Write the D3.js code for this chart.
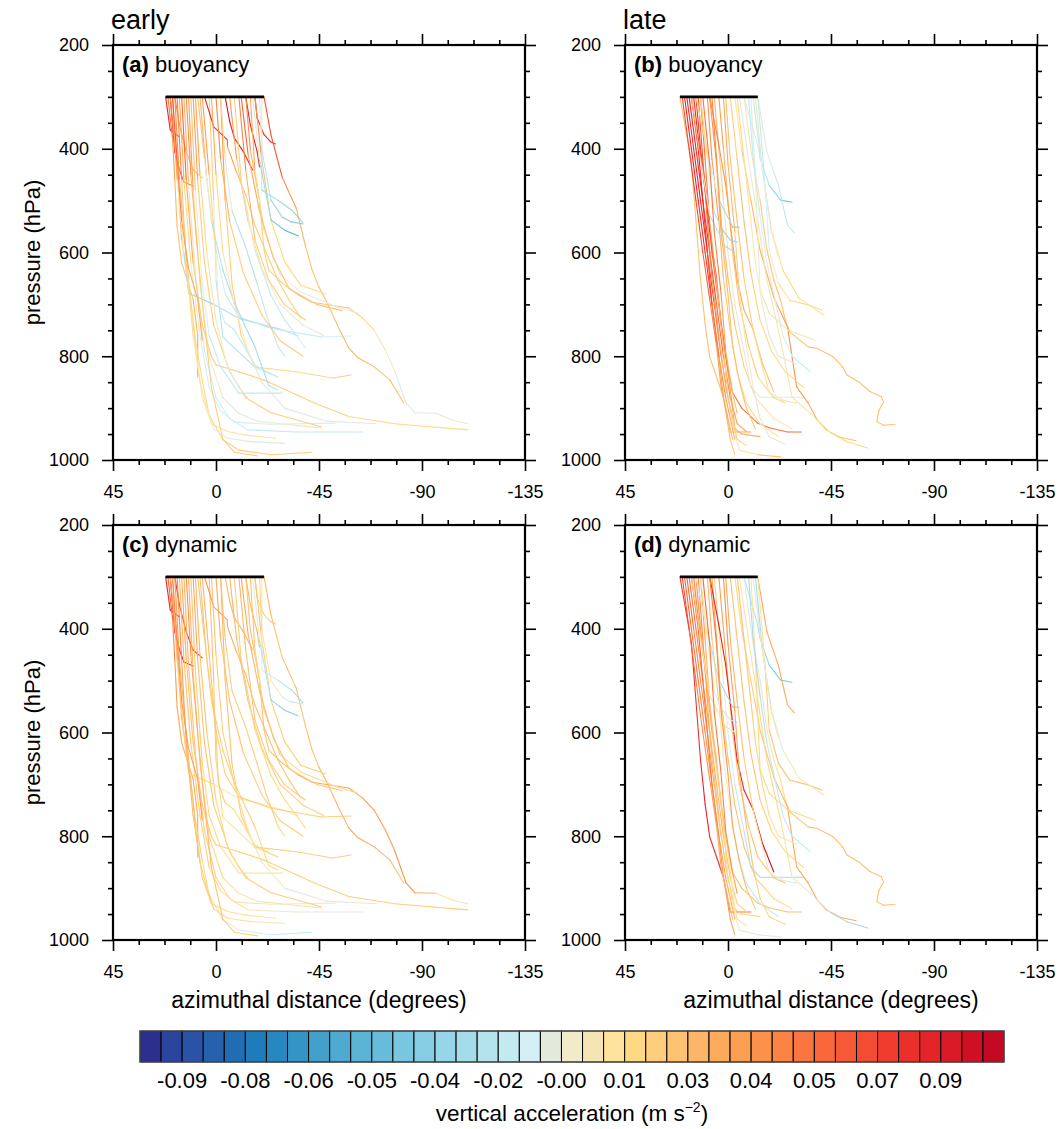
<!DOCTYPE html>
<html>
<head>
<meta charset="utf-8">
<script src="https://cdn.jsdelivr.net/npm/d3@7"></script>
<style>
  body { margin: 0; background: #fff; }
  text { font-family: "Liberation Sans", Arial, Helvetica, sans-serif; fill: #000; }
</style>
</head>
<body>
<svg></svg>
<script>
// ---- axis ticks ----
const xTicks = [45, 0, -45, -90, -135];
const yTicks = [200, 400, 600, 800, 1000];

// ---- colour levels (m s-2) ----
const levels = [-0.1, -0.095, -0.09, -0.085, -0.08, -0.075, -0.07, -0.065, -0.06, -0.055,
  -0.05, -0.045, -0.04, -0.035, -0.03, -0.025, -0.02, -0.015, -0.01, -0.005,
  0, 0.005, 0.01, 0.015, 0.02, 0.025, 0.03, 0.035, 0.04, 0.045,
  0.05, 0.055, 0.06, 0.065, 0.07, 0.075, 0.08, 0.085, 0.09, 0.095];
const levelColors = ["#2d2f8e", "#2b449e", "#2a52a6", "#2661ad", "#206db3", "#1d7cb9", "#2787c0",
  "#3594c6", "#42a0cb", "#4eaad1", "#5bb3d6", "#67bcda", "#78c6df", "#86cde3", "#97d5e8",
  "#a4dcea", "#b4e3ee", "#c3e9f1", "#d4eff4", "#e2eadc", "#f1ebc9", "#f5e5b4", "#fde39d",
  "#fed985", "#fece7c", "#fdc272", "#fdb668", "#fcaa5c", "#fc9f53", "#fb914b", "#fb8445",
  "#fa7640", "#f9673b", "#f75937", "#f44b33", "#f03c2e", "#eb2f2a", "#e42428", "#da1a26",
  "#cf1024", "#c30a22"];
const cbarTicks = [-0.095, -0.08, -0.065, -0.05, -0.035, -0.02, -0.005, 0.01, 0.025, 0.04, 0.055, 0.07, 0.085];
const cbarLabels = ["-0.09", "-0.08", "-0.06", "-0.05", "-0.04", "-0.02", "-0.00", "0.01", "0.03", "0.04", "0.05", "0.07", "0.09"];

// ---- early trajectories: [azimuthal distance (deg), pressure (hPa)] ----
const earlyTracks = [
  [[22,300],[20,364],[16,377]],
  [[20,300],[18,406],[16,440],[14,464],[10,472]],
  [[18,300],[16,354],[13,406],[10,441],[6,456]],
  [[21,300],[19,380],[18,460],[17,550],[15,620],[10,690],[8,760],[8,840]],
  [[20,300],[17,441],[15,576],[11,692],[9,769],[6,846],[3,913],[-3,961],[-10,981],[-24,990],[-42,985]],
  [[18,300],[16,460],[12,650],[9,780],[6,880],[2,930],[-5,945],[-13,952],[-26,958]],
  [[16,300],[14,460],[11,620],[7,760],[3,860],[-2,905],[-8,927],[-24,931],[-52,929]],
  [[14,300],[12,470],[9,640],[5,790],[0,880],[-6,920],[-14,942],[-35,946],[-64,946]],
  [[12,300],[10,480],[7,660],[3,800],[-3,880],[-10,910],[-18,925],[-32,932],[-46,938]],
  [[10,300],[8,460],[5,620],[1,740],[-6,830],[-13,880],[-24,909],[-46,936]],
  [[15,300],[13,460],[10,620],[6,740],[2,800],[0,817],[-10,830],[-21,846],[-43,890],[-58,916],[-78,930],[-110,942]],
  [[11,300],[9,480],[6,660],[3,760],[-2,820],[-10,871],[-29,871]],
  [[19,300],[17,460],[14,600],[12,678],[1,700],[-10,727],[-29,749],[-36,761]],
  [[7,300],[4,460],[0,595],[-4,680],[-10,724],[-24,746],[-46,763],[-59,761]],
  [[3,300],[1,499],[0,653],[-3,763],[-17,821],[-27,840]],
  [[-2,300],[-4,499],[-7,660],[-11,760],[-17,821],[-35,830],[-51,842],[-59,836]],
  [[5,300],[1,358],[-5,383],[-5,396],[-9,445],[-13,489],[-17,547],[-23,611],[-27,653],[-32,692],[-37,726]],
  [[-4,300],[-6,348],[-8,379],[-12,406],[-16,441]],
  [[-17,300],[-18,341],[-21,373],[-24,387],[-26,391]],
  [[-13,300],[-15,354],[-18,406],[-19,435]],
  [[-21,300],[-24,373],[-29,456],[-35,514],[-39,586],[-42,634],[-45,667],[-48,692],[-54,749],[-58,784],[-62,803],[-69,820],[-76,846],[-82,890]],
  [[-13,300],[-15,402],[-19,499],[-21,595],[-23,634],[-29,659],[-36,682],[-42,696],[-58,707],[-64,726],[-69,749],[-74,788],[-78,827],[-83,890],[-87,909],[-96,910],[-104,924],[-110,930]],
  [[-17,300],[-20,422],[-24,537],[-30,618],[-37,663],[-48,680]],
  [[-15,300],[-17,441],[-21,557],[-28,643],[-37,676],[-53,705],[-62,717]],
  [[-10,300],[-13,441],[-17,576],[-23,653],[-30,701],[-39,730]],
  [[-8,300],[-11,460],[-17,595],[-24,682],[-30,730],[-35,759],[-39,784]],
  [[-20,300],[-20,383],[-20,480],[-27,499],[-33,518],[-38,543]],
  [[-19,300],[-20,402],[-24,499],[-29,532],[-33,541],[-38,545]],
  [[-16,300],[-19,422],[-24,537],[-30,557],[-36,568]],
  [[-2,300],[-4,420],[-7,520],[-13,590],[-18,660],[-22,720],[-27,780],[-30,800]],
  [[8,300],[5,420],[2,540],[-3,634],[-8,697],[-17,782],[-23,856],[-27,865]],
  [[6,300],[3,450],[0,600],[-1,697],[-4,736],[-8,749],[-17,817],[-21,827],[-27,840]],
  [[0,300],[-2,420],[-6,540],[-12,640],[-20,720],[-28,770],[-38,800]],
  [[-6,300],[-9,420],[-14,540],[-20,630],[-28,700],[-38,740],[-47,760]],
  [[-11,300],[-14,410],[-19,520],[-25,610],[-32,670],[-44,700],[-55,712]],
  [[2,300],[0,450],[-3,600],[-8,700],[-14,790],[-20,850],[-30,900],[-48,925],[-70,930]],
  [[17,300],[15,460],[13,620],[10,760],[7,850],[4,900],[1,940],[-5,958],[-16,965],[-30,968]],
  [[13,300],[11,450],[8,600],[5,740],[2,860],[-1,920],[-3,960],[-8,985],[-18,992]],
  [[9,300],[7,450],[4,600],[0,730],[-5,820],[-10,860],[-14,880]],
  [[19,300],[17,420],[15,540],[12,630],[8,690],[6,769]]
];

// buoyancy acceleration along the early trajectories (m s-2)
const earlyBuoyancy = [
  [0.08,0.08,0.07],
  [0.08,0.07,0.06,0.05,0.04],
  [0.05,0.04,0.03,0.02,0.02],
  [0.06,0.04,0.03,0.02,0.02,0.02,0.03,0.03],
  [0.06,0.03,0.02,0.015,0.01,0.01,0.01,0.015,0.015,0.015,0.015],
  [0.05,0.03,0.015,0.01,0.005,0.005,0.005,0.005,0.005],
  [0.04,0.02,0,-0.01,-0.015,-0.015,-0.015,-0.015,-0.015],
  [0.04,0.01,-0.005,-0.01,-0.015,-0.015,-0.015,-0.02,-0.015],
  [0.05,0.02,0.005,0,-0.01,-0.01,-0.01,0,0],
  [0.05,0.02,0.015,0.015,0.015,0.015,0.015,0.015],
  [0.07,0.04,0.02,0.015,0.015,0.015,0.015,0.015,0.015,0.015,0.01,0.01],
  [0.04,0,-0.01,-0.02,-0.02,-0.02,-0.02],
  [0.05,0.01,-0.02,-0.03,-0.03,-0.03,-0.025,-0.02],
  [0.04,0.01,-0.01,-0.02,-0.02,-0.02,-0.015,-0.015],
  [0.03,0,-0.02,-0.03,-0.02,-0.02],
  [0.05,0.02,0.015,0.015,0.01,0.01,0.015,0.015],
  [0.08,0.08,0.07,0.04,0.03,0.02,0.015,0.015,0.015,0.015,0.015],
  [0.09,0.09,0.08,0.08,0.07],
  [0.08,0.08,0.08,0.07,0.07],
  [0.09,0.08,0.08,0.07],
  [0.06,0.07,0.05,0.03,0.02,0.02,0.02,0.02,0.025,0.025,0.03,0.025,0.02,0.02],
  [0.05,0.03,0.02,0.015,0.015,0.015,0.02,0.025,0.02,0.015,0.005,0,-0.01,-0.01,-0.01,-0.01,-0.01,-0.01],
  [0.05,0.03,0.015,0.01,0.01,0.015],
  [0.04,0.02,0.005,0,-0.01,-0.01,-0.01],
  [0.06,0.03,0.02,0.015,0.015,0.015],
  [0.03,0,-0.02,-0.02,-0.02,-0.02,-0.01],
  [0.01,-0.01,-0.03,-0.03,-0.035,-0.035],
  [0,-0.02,-0.03,-0.035,-0.04,-0.04],
  [0,-0.02,-0.04,-0.05,-0.055],
  [0.02,0,-0.02,-0.03,-0.02,-0.02,-0.02,-0.02],
  [0.04,0,-0.02,-0.03,-0.03,-0.03,-0.03,-0.02],
  [0.05,0.02,0,-0.01,-0.02,-0.02,-0.02,-0.02,-0.02],
  [0.06,0.03,0.02,0.015,0.015,0.015,0.015],
  [0.05,0.02,0.01,0,-0.01,-0.01,-0.01],
  [0.07,0.04,0.025,0.02,0.02,0.02,0.02],
  [0.04,0.02,0.005,0,-0.01,-0.01,-0.01,-0.01,-0.01],
  [0.06,0.03,0.015,0.01,0.005,0,-0.01,-0.01,-0.01,-0.01],
  [0.05,0.03,0.02,0.015,0.015,0.015,0.015,0.015,0.015],
  [0.04,0.02,0.005,0,-0.01,-0.01,-0.01],
  [0.07,0.05,0.04,0.03,0.03,0.03]
];

// dynamic acceleration along the early trajectories (m s-2)
const earlyDynamic = [
  [0.08,0.08,0.08],
  [0.08,0.08,0.08,0.08,0.08],
  [0.07,0.07,0.07,0.07,0.07],
  [0.06,0.05,0.04,0.03,0.03,0.03,0.03,0.03],
  [0.04,0.03,0.02,0.02,0.015,0.015,0.01,0,-0.01,-0.02,-0.02],
  [0.04,0.03,0.02,0.02,0.015,0.015,0.01,0.005,0.005],
  [0.03,0.025,0.02,0.015,0.015,0.01,0.005,0,-0.01],
  [0.03,0.025,0.02,0.015,0.015,0.01,0,-0.01,-0.01],
  [0.03,0.02,0.015,0.015,0.01,0.005,0,0,0],
  [0.035,0.025,0.02,0.02,0.015,0.015,0.015,0.015],
  [0.035,0.025,0.02,0.02,0.015,0.015,0.015,0.015,0.015,0.015,0.015,0.015],
  [0.025,0.015,0.015,0.01,0.01,0.005,0.005],
  [0.03,0.02,0.015,0.015,0.01,0.005,0.005,0.005],
  [0.025,0.02,0.015,0.015,0.015,0.015,0.015,0.015],
  [0.025,0.015,0.015,0.01,0,0],
  [0.03,0.025,0.02,0.015,0.015,0.015,0.015,0.015],
  [0.045,0.04,0.035,0.03,0.03,0.025,0.02,0.02,0.02,0.02,0.02],
  [0.025,0.025,0.025,0.025,0.025],
  [0.015,0.015,0.015,0.015,0.015],
  [0.025,0.025,0.025,0.025],
  [0.025,0.025,0.02,0.02,0.02,0.02,0.025,0.025,0.025,0.03,0.03,0.03,0.025,0.02],
  [0.025,0.02,0.02,0.02,0.02,0.02,0.03,0.03,0.03,0.035,0.035,0.035,0.04,0.045,0.04,0.01,0,0],
  [0.025,0.02,0.015,0.015,0.015,0.015],
  [0.025,0.015,0.015,0.015,0.01,0.01,0.01],
  [0.025,0.025,0.02,0.015,0.015,0.015],
  [0.015,0.015,0.015,0.01,0.01,0.01,0.01],
  [0.01,0,-0.01,-0.02,-0.03,-0.03],
  [0.015,0.01,0,-0.01,-0.02,-0.02],
  [0,-0.02,-0.03,-0.04,-0.04],
  [0.025,0.02,0.015,0.015,0.015,0.015,0.015,0.01],
  [0.025,0.02,0.015,0.015,0.015,0.015,0.01,0.01],
  [0.03,0.025,0.02,0.015,0.015,0.01,0.01,0.01,0.01],
  [0.035,0.025,0.02,0.02,0.015,0.015,0.015],
  [0.025,0.025,0.02,0.015,0.015,0.015,0.015],
  [0.035,0.03,0.025,0.02,0.02,0.015,0.015],
  [0.025,0.02,0.015,0.015,0.01,0,-0.01,-0.01,-0.01],
  [0.05,0.04,0.03,0.025,0.02,0.015,0.015,0.01,0,-0.01],
  [0.045,0.035,0.03,0.025,0.025,0.02,0.02,0.015,0.015],
  [0.03,0.025,0.015,0.015,0.01,0.01,0.01],
  [0.05,0.045,0.04,0.035,0.035,0.035]
];

// ---- late trajectories: [azimuthal distance (deg), pressure (hPa)] ----
const lateTracks = [
  [[21,300],[16,426],[12,653],[10,738],[8,801],[2,879],[-1,946],[-5,946],[-10,946]],
  [[19,300],[16,400],[13,500],[10,600],[7,700],[4,800],[1,880],[-2,940],[-3,960]],
  [[18,300],[15,400],[12,500],[9,600],[6,700],[3,800],[0,880],[-3,940],[-6,950],[-14,955]],
  [[17,300],[14,400],[11,500],[8,600],[5,700],[2,800],[-1,880],[-4,930],[-8,945]],
  [[16,300],[13,400],[11,500],[9,600],[7,700],[4,800],[2,880],[-1,960],[-3,990]],
  [[15,300],[13,380],[10,480],[8,560],[5,650],[3,740],[0,830],[-2,900],[-3,940]],
  [[20,300],[17,400],[14,500],[11,600],[8,690],[5,780],[3,860],[0,920],[-2,960]],
  [[14,300],[12,400],[9,500],[7,600],[4,700],[1,800],[-2,870],[-6,900],[-13,929],[-18,938],[-26,946],[-32,946]],
  [[12,300],[10,420],[8,540],[5,660],[2,780],[0,880],[-3,950],[-5,981],[-13,990],[-23,994]],
  [[13,300],[11,420],[9,540],[7,650],[4,760],[1,860],[-2,920],[-4,960],[-8,972]],
  [[9,300],[7,420],[4,540],[2,650],[-1,750],[-4,830],[-8,890],[-14,930],[-22,955]],
  [[7,300],[5,420],[3,540],[0,650],[-3,740],[-7,820],[-12,880],[-20,920],[-28,940]],
  [[6,300],[4,400],[2,500],[0,600],[-3,700],[-7,790],[-10,860],[-14,879],[-18,879],[-33,879]],
  [[4,300],[2,400],[0,500],[-2,600],[-5,700],[-9,780],[-13,840],[-20,880],[-25,890]],
  [[8,300],[4,393],[1,470],[-4,653],[-7,711],[-11,749],[-15,813],[-20,869]],
  [[14,300],[9,406],[4,499],[-1,541],[-2,551],[-5,551]],
  [[12,300],[9,420],[6,522],[3,553],[-1,576],[-4,580]],
  [[16,300],[12,420],[8,528],[1,589],[-3,599]],
  [[-7,300],[-13,393],[-14,418],[-18,470],[-23,499],[-28,503]],
  [[-13,300],[-17,406],[-20,445],[-22,470],[-26,547],[-29,562]],
  [[-7,300],[-10,402],[-14,499],[-17,595],[-20,653],[-23,692],[-25,730],[-27,753],[-35,782],[-39,785],[-46,801],[-50,820],[-52,836],[-57,849],[-62,868],[-67,878],[-68,888],[-66,904],[-65,926],[-68,933],[-73,931]],
  [[-3,300],[-6,402],[-10,499],[-14,595],[-20,686],[-26,744],[-30,859],[-35,890],[-39,923],[-43,942],[-49,956],[-56,963]],
  [[-5,300],[-9,422],[-13,537],[-17,653],[-23,769],[-28,879],[-36,910],[-45,948],[-52,965],[-61,977]],
  [[-10,300],[-12,460],[-14,672],[-18,717],[-26,749],[-38,769]],
  [[-13,300],[-16,460],[-18,595],[-22,659],[-27,692],[-35,701],[-41,711]],
  [[-12,300],[-15,441],[-19,557],[-24,634],[-31,688],[-42,721]],
  [[-1,300],[-4,420],[-7,540],[-10,640],[-14,730],[-19,790],[-25,830],[-33,860]],
  [[1,300],[-1,420],[-4,540],[-7,650],[-11,750],[-15,820],[-18,870],[-24,885],[-30,890]],
  [[-9,300],[-11,420],[-14,530],[-17,620],[-21,700],[-24,760],[-28,800],[-36,830]],
  [[-4,300],[-7,420],[-10,540],[-12,620],[-15,700],[-18,760],[-22,800],[-30,815]],
  [[2,300],[0,430],[-3,560],[-5,680],[-8,780],[-11,860],[-14,920],[-18,955],[-25,970]],
  [[8,300],[5,430],[3,560],[0,680],[-2,780],[-5,850],[-8,900],[-12,940]],
  [[11,300],[8,430],[6,560],[3,680],[1,790],[-2,870],[-4,910]],
  [[-11,300],[-14,410],[-17,500],[-19,560],[-22,610]]
];

// buoyancy acceleration along the late trajectories (m s-2)
const lateBuoyancy = [
  [0.03,0.02,0.02,0.02,0.02,0.02,0.03,0.03,0.03],
  [0.08,0.08,0.08,0.07,0.07,0.05,0.04,0.03,0.03],
  [0.07,0.08,0.08,0.07,0.06,0.05,0.04,0.03,0.03,0.03],
  [0.08,0.08,0.07,0.07,0.06,0.05,0.04,0.03,0.03],
  [0.08,0.08,0.08,0.07,0.06,0.04,0.03,0.02,0.01],
  [0.07,0.08,0.08,0.07,0.06,0.05,0.04,0.03,0.03],
  [0.06,0.07,0.07,0.06,0.05,0.04,0.03,0.03,0.02],
  [0.07,0.07,0.07,0.06,0.06,0.05,0.05,0.05,0.05,0.05,0.05,0.06],
  [0.05,0.05,0.04,0.03,0.02,0.01,0,-0.02,0.02,0.02],
  [0.06,0.06,0.05,0.04,0.03,0.02,0.02,0.01,0.01],
  [0.04,0.04,0.03,0.02,0.02,0.01,0.01,0.01,0],
  [0.05,0.04,0.03,0.02,0.02,0.01,0.01,0,0],
  [0.03,0.02,0.01,0,-0.01,-0.01,-0.01,-0.01,-0.01,-0.01],
  [0.04,0.03,0.02,0.02,0.02,0.02,0.01,0.01,0.01],
  [0.05,0.04,0.04,0.03,0.03,0.02,0.02,0.02],
  [0.02,0,-0.03,-0.03,-0.04,-0.04],
  [0.02,0,-0.02,-0.03,-0.04,-0.03],
  [0.03,0.01,-0.02,-0.03,-0.03],
  [-0.01,-0.02,-0.02,-0.03,-0.04,-0.05],
  [-0.01,-0.01,-0.02,-0.02,-0.02,-0.02],
  [0,0,0.01,0.02,0.02,0.02,0.02,0.02,0.02,0.02,0.02,0.02,0.02,0.02,0.02,0.02,0.02,0.02,0.02,0.02,0.02],
  [0,0.01,0.02,0.03,0.03,0.04,0.04,0.03,0.03,0.02,0.02,0.02],
  [-0.01,-0.01,0,0,0,0,0,0.01,0.01,0.01],
  [-0.01,-0.01,0,0,0,0],
  [-0.02,-0.02,-0.01,0,0.01,0.01,0.01],
  [0,0,0,0.01,0.01,0],
  [0.01,0.02,0.02,0.02,0.01,0.01,0.01,0.01],
  [0.02,0.02,0.02,0.02,0.01,0.01,0,0,0],
  [-0.02,-0.02,-0.02,-0.01,-0.01,-0.01,-0.02,-0.02],
  [0.01,0.01,0,0,-0.01,-0.01,-0.01,-0.01],
  [0.03,0.03,0.02,0.01,0,-0.01,-0.01,-0.01,-0.01],
  [0.04,0.04,0.03,0.02,0.02,0.02,0.02,0.02],
  [0.05,0.05,0.05,0.04,0.03,0.02,0.02],
  [-0.02,-0.02,-0.01,-0.01,0]
];

// dynamic acceleration along the late trajectories (m s-2)
const lateDynamic = [
  [0.07,0.07,0.08,0.08,0.08,0.07,0.06,0.05,0.05],
  [0.06,0.05,0.05,0.04,0.04,0.04,0.03,0.03,0.03],
  [0.06,0.05,0.04,0.04,0.03,0.02,0.02,0.02,0.01,0.01],
  [0.05,0.05,0.04,0.03,0.03,0.02,0.02,0.01,0.01],
  [0.06,0.06,0.05,0.05,0.05,0.04,0.04,0.03,0.03],
  [0.05,0.04,0.03,0.02,0.02,0.01,0.01,0,0],
  [0.07,0.06,0.05,0.04,0.04,0.03,0.03,0.02,0.02],
  [0.04,0.04,0.03,0.03,0.02,0.02,0.02,0.02,0.02,0.02,0.02,0.02],
  [0.04,0.03,0.02,0.02,0.01,0.01,0,-0.01,-0.01,-0.01],
  [0.05,0.04,0.03,0.02,0.02,0.01,0.01,0,0],
  [0.03,0.02,0.01,0,-0.01,-0.01,-0.02,-0.02,-0.02],
  [0.03,0.03,0.02,0.02,0.02,0.02,0.02,0.01,0.01],
  [0.02,0.01,0,-0.01,-0.02,-0.02,-0.03,-0.03,-0.03,-0.03],
  [0.04,0.03,0.03,0.02,0.02,0.02,0.02,0.02,0.02],
  [0.08,0.08,0.08,0.08,0.08,0.08,0.09,0.09],
  [0,-0.02,-0.03,-0.03,-0.03,-0.03],
  [0.01,0,-0.01,-0.02,-0.02,-0.02],
  [0.02,0.01,0,0,0],
  [-0.02,-0.03,-0.03,-0.04,-0.04,-0.04],
  [0.03,0.03,0.03,0.03,0.03,0.03],
  [-0.01,-0.01,0,0,0,0.01,0.01,0.02,0.02,0.02,0.02,0.02,0.02,0.02,0.02,0.02,0.02,0.02,0.02,0.02,0.02],
  [0.01,0.01,0.01,0.02,0.02,0.03,0.03,0.03,0.03,0.03,0.03,0.03],
  [0,0,0.01,0.01,0.01,0,-0.01,-0.02,-0.03,-0.03],
  [0,0.01,0.01,0.01,0.01,0.01],
  [0,0.01,0.02,0.02,0.02,0.02,0.02],
  [-0.03,-0.03,-0.02,-0.01,0,0],
  [0.02,0.02,0.02,0.02,0.02,0.01,0.01,0.01],
  [0.03,0.03,0.02,0.02,0.01,0,0,-0.01,-0.01],
  [-0.03,-0.03,-0.03,-0.02,-0.02,-0.02,-0.02,-0.02],
  [0.02,0.02,0.02,0.01,0.01,0.01,0,0],
  [0.04,0.04,0.03,0.03,0.02,0.02,0.01,0.01,0.01],
  [0.05,0.05,0.04,0.04,0.03,0.03,0.02,0.02],
  [0.06,0.05,0.05,0.05,0.04,0.04,0.03],
  [-0.01,-0.01,0,0,0.01]
];

const W = 1063, H = 1129;
const pw = 412, ph = 415;

const svg = d3.select("svg").attr("width", W).attr("height", H);

const x = d3.scaleLinear().domain([45, -135]).range([0, pw]);
const y = d3.scaleLinear().domain([200, 1000]).range([0, ph]);
const color = d3.scaleThreshold().domain(levels).range(levelColors);

const xMinor = d3.range(45, -135.1, -11.25).filter(v => !xTicks.includes(v));
const yMinor = d3.range(200, 1000.1, 50).filter(v => !yTicks.includes(v));

const panels = [
  { tracks: earlyTracks, vals: earlyBuoyancy, left: 113, top: 45, tag: "(a)", name: " buoyancy", head: "early", yTitle: true, xTitle: false },
  { tracks: lateTracks, vals: lateBuoyancy, left: 625, top: 45, tag: "(b)", name: " buoyancy", head: "late", yTitle: false, xTitle: false },
  { tracks: earlyTracks, vals: earlyDynamic, left: 113, top: 525, tag: "(c)", name: " dynamic", head: null, yTitle: true, xTitle: true },
  { tracks: lateTracks, vals: lateDynamic, left: 625, top: 525, tag: "(d)", name: " dynamic", head: null, yTitle: false, xTitle: true }
];

function styleAxis(sel, fs) {
  sel.select(".domain").remove();
  sel.selectAll(".tick line").attr("stroke", "#000").attr("stroke-width", 1.6);
  sel.selectAll(".tick text").attr("font-size", fs).attr("fill", "#000")
    .attr("font-family", '"Liberation Sans", Arial, sans-serif');
}

panels.forEach(pn => {
  const g = svg.append("g").attr("transform", `translate(${pn.left},${pn.top})`);

  // trajectory segments coloured by acceleration
  const segs = [];
  pn.tracks.forEach((tr, k) => {
    const v = pn.vals[k];
    for (let i = 0; i < tr.length - 1; i++) {
      const a = v[Math.min(i, v.length - 1)], b = v[Math.min(i + 1, v.length - 1)];
      segs.push({ p0: tr[i], p1: tr[i + 1], val: (a + b) / 2 });
    }
  });
  g.append("g").selectAll("line").data(segs).join("line")
    .attr("x1", d => x(d.p0[0])).attr("y1", d => y(d.p0[1]))
    .attr("x2", d => x(d.p1[0])).attr("y2", d => y(d.p1[1]))
    .attr("stroke", d => color(d.val))
    .attr("stroke-width", 1.1)
    .attr("stroke-linecap", "round");

  // release line at 300 hPa
  const starts = pn.tracks.map(t => t[0][0]);
  g.append("line")
    .attr("x1", x(d3.max(starts))).attr("x2", x(d3.min(starts)))
    .attr("y1", y(300)).attr("y2", y(300))
    .attr("stroke", "#000").attr("stroke-width", 2.6);

  // axes: major + minor, ticks outward on all sides
  g.append("g").attr("transform", `translate(0,${ph})`)
    .call(d3.axisBottom(x).tickValues(xTicks).tickSize(11).tickPadding(14).tickFormat(d => String(d)))
    .call(s => styleAxis(s, 18));
  g.append("g").attr("transform", `translate(0,${ph})`)
    .call(d3.axisBottom(x).tickValues(xMinor).tickSize(5).tickFormat(""))
    .call(s => styleAxis(s, 18));
  g.append("g")
    .call(d3.axisTop(x).tickValues(xTicks).tickSize(11).tickFormat(""))
    .call(s => styleAxis(s, 18));
  g.append("g")
    .call(d3.axisTop(x).tickValues(xMinor).tickSize(5).tickFormat(""))
    .call(s => styleAxis(s, 18));
  g.append("g")
    .call(d3.axisLeft(y).tickValues(yTicks).tickSize(11).tickPadding(13).tickFormat(d => String(d)))
    .call(s => styleAxis(s, 18));
  g.append("g")
    .call(d3.axisLeft(y).tickValues(yMinor).tickSize(5).tickFormat(""))
    .call(s => styleAxis(s, 18));
  g.append("g").attr("transform", `translate(${pw},0)`)
    .call(d3.axisRight(y).tickValues(yTicks).tickSize(11).tickFormat(""))
    .call(s => styleAxis(s, 18));
  g.append("g").attr("transform", `translate(${pw},0)`)
    .call(d3.axisRight(y).tickValues(yMinor).tickSize(5).tickFormat(""))
    .call(s => styleAxis(s, 18));

  g.append("rect").attr("width", pw).attr("height", ph)
    .attr("fill", "none").attr("stroke", "#000").attr("stroke-width", 2.2);

  // panel tag
  const t = g.append("text").attr("x", 9).attr("y", 27).attr("font-size", 22);
  t.append("tspan").attr("font-weight", "bold").text(pn.tag);
  t.append("tspan").text(pn.name);

  if (pn.head) {
    g.append("text").attr("x", -2).attr("y", -16).attr("font-size", 27).text(pn.head);
  }
  if (pn.yTitle) {
    g.append("text")
      .attr("transform", `translate(-73,${ph / 2}) rotate(-90)`)
      .attr("text-anchor", "middle").attr("font-size", 22)
      .text("pressure (hPa)");
  }
  if (pn.xTitle) {
    g.append("text")
      .attr("x", pw / 2).attr("y", ph + 68)
      .attr("text-anchor", "middle").attr("font-size", 23)
      .text("azimuthal distance (degrees)");
  }
});

// ---- colour bar ----
const cb = svg.append("g");
const cx = d3.scaleBand().domain(d3.range(levelColors.length)).range([140, 1004]);
const cbTop = 1031, cbH = 31;
cb.selectAll("rect.box").data(levelColors).join("rect")
  .attr("class", "box")
  .attr("x", (d, i) => cx(i)).attr("y", cbTop)
  .attr("width", cx.bandwidth()).attr("height", cbH)
  .attr("fill", d => d).attr("stroke", "#000").attr("stroke-width", 1);
cb.append("rect").attr("x", 140).attr("y", cbTop).attr("width", 864).attr("height", cbH)
  .attr("fill", "none").attr("stroke", "#555").attr("stroke-width", 1.2);
cb.selectAll("text.lab").data(cbarTicks).join("text")
  .attr("class", "lab")
  .attr("x", d => cx(levels.indexOf(d) + 1))
  .attr("y", 1088)
  .attr("text-anchor", "middle").attr("font-size", 22)
  .text((d, i) => cbarLabels[i]);
const ct = cb.append("text").attr("x", 572).attr("y", 1121)
  .attr("text-anchor", "middle").attr("font-size", 22.5);
ct.append("tspan").text("vertical acceleration (m s");
ct.append("tspan").attr("dy", -9).attr("font-size", 14).text("\u22122");
ct.append("tspan").attr("dy", 9).text(")");
</script>
</body>
</html>
